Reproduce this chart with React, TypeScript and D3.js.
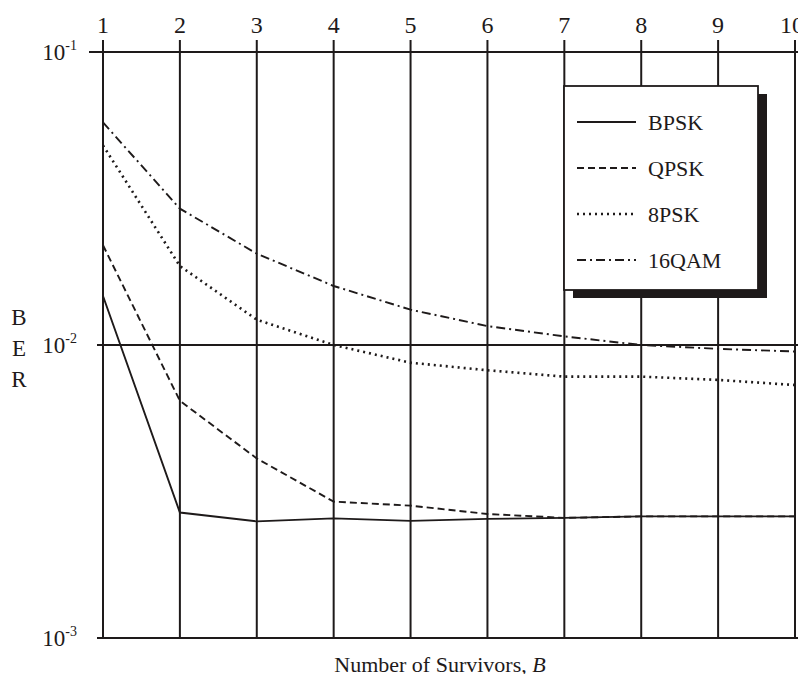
import React, { useEffect, useRef } from "react";
import * as d3 from "d3";

const survivors = [1, 2, 3, 4, 5, 6, 7, 8, 9, 10];
const bpsk = [0.0147, 0.00268, 0.0025, 0.00256, 0.00251, 0.00255, 0.00257, 0.0026, 0.0026, 0.0026];
const qpsk = [0.0219, 0.00645, 0.0041, 0.00292, 0.00283, 0.00265, 0.00257, 0.0026, 0.0026, 0.0026];
const psk8 = [0.048, 0.0186, 0.0122, 0.01, 0.0087, 0.0082, 0.0078, 0.0078, 0.0076, 0.0073];
const qam16 = [0.0575, 0.0292, 0.0205, 0.0159, 0.0132, 0.0116, 0.0107, 0.01, 0.0097, 0.0095];
const seriesNames = ["BPSK", "QPSK", "8PSK", "16QAM"];
const yTicks = [1e-1, 1e-2, 1e-3];
const yTickExp = ["-1", "-2", "-3"];

const dashes = ["none", "7,4", "2,4", "9,4,2,4"];
const ink = "#1e1a1a";

const App = () => {
  const ref = useRef<SVGSVGElement | null>(null);

  useEffect(() => {
    drawChart();
  }, []);

  const drawChart = () => {
    const w = 806;
    const h = 682;
    const svg = d3.select(ref.current);
    svg.selectAll("*").remove();
    svg.attr("width", w).attr("height", h);

    const x = d3.scaleLinear().domain([1, 10]).range([103, 795]);
    const y = d3.scaleLog().domain([1e-3, 1e-1]).range([638, 52]);
    const font = "'Liberation Serif', 'DejaVu Serif', serif";

    const g = svg.append("g");

    // vertical grid lines (with little ticks above the top axis)
    g.selectAll("line.v")
      .data(survivors)
      .enter()
      .append("line")
      .attr("x1", (d) => x(d))
      .attr("x2", (d) => x(d))
      .attr("y1", y(1e-1) - 12)
      .attr("y2", y(1e-3))
      .attr("stroke", ink)
      .attr("stroke-width", 2);

    // horizontal decade lines
    g.selectAll("line.h")
      .data(yTicks)
      .enter()
      .append("line")
      .attr("x1", (d) => x(1) - (d === 1e-1 ? 14 : 6))
      .attr("x2", w)
      .attr("y1", (d) => y(d))
      .attr("y2", (d) => y(d))
      .attr("stroke", ink)
      .attr("stroke-width", 2);

    // x tick labels on top
    g.selectAll("text.xt")
      .data(survivors)
      .enter()
      .append("text")
      .attr("x", (d) => Math.min(x(d), w - 14))
      .attr("y", y(1e-1) - 19)
      .attr("text-anchor", "middle")
      .attr("font-family", font)
      .attr("font-size", 24)
      .attr("fill", ink)
      .text((d) => d);

    // y tick labels: 10^-n
    const yt = g.selectAll("text.yt")
      .data(yTicks)
      .enter()
      .append("text")
      .attr("x", x(1) - 26)
      .attr("y", (d) => y(d) + 8)
      .attr("text-anchor", "end")
      .attr("font-family", font)
      .attr("font-size", 23)
      .attr("fill", ink);
    yt.append("tspan").text("10");
    yt.append("tspan")
      .attr("dy", -10)
      .attr("font-size", 14)
      .text((d, i) => yTickExp[i]);

    // B E R
    ["B", "E", "R"].forEach((c, i) => {
      g.append("text")
        .attr("x", 19)
        .attr("y", y(1e-2) - 20 + i * 31)
        .attr("text-anchor", "middle")
        .attr("font-family", font)
        .attr("font-size", 23)
        .attr("fill", ink)
        .text(c);
    });

    // x axis title
    const xt = g.append("text")
      .attr("x", 440)
      .attr("y", 672)
      .attr("text-anchor", "middle")
      .attr("font-family", font)
      .attr("font-size", 22)
      .attr("fill", ink);
    xt.append("tspan").text("Number of Survivors, ");
    xt.append("tspan").attr("font-style", "italic").text("B");

    const all = [bpsk, qpsk, psk8, qam16];
    const line = d3.line<number>()
      .x((d, i) => x(survivors[i]))
      .y((d) => y(d));

    all.forEach((s, i) => {
      g.append("path")
        .attr("d", line(s))
        .attr("fill", "none")
        .attr("stroke", ink)
        .attr("stroke-width", i === 2 ? 2.6 : 1.9)
        .attr("stroke-dasharray", dashes[i]);
    });

    // legend with shadow
    const lx = 564;
    const ly = 86;
    const lw = 194;
    const lh = 204;
    g.append("rect")
      .attr("x", lx + 9)
      .attr("y", ly + 8)
      .attr("width", lw)
      .attr("height", lh)
      .attr("fill", ink);
    g.append("rect")
      .attr("x", lx)
      .attr("y", ly)
      .attr("width", lw)
      .attr("height", lh)
      .attr("fill", "#fff")
      .attr("stroke", ink)
      .attr("stroke-width", 1.8);

    seriesNames.forEach((name, i) => {
      const yy = ly + 36 + i * 46;
      g.append("line")
        .attr("x1", lx + 13)
        .attr("x2", lx + 72)
        .attr("y1", yy)
        .attr("y2", yy)
        .attr("stroke", ink)
        .attr("stroke-width", i === 2 ? 2.6 : 1.9)
        .attr("stroke-dasharray", dashes[i]);
      g.append("text")
        .attr("x", lx + 84)
        .attr("y", yy + 8)
        .attr("font-family", font)
        .attr("font-size", 22)
        .attr("fill", ink)
        .text(name);
    });
  };

  return (
    <div style={{ margin: -8 }}>
      <svg ref={ref} style={{ display: "block", background: "#fff" }}></svg>
    </div>
  );
};

export default App;
